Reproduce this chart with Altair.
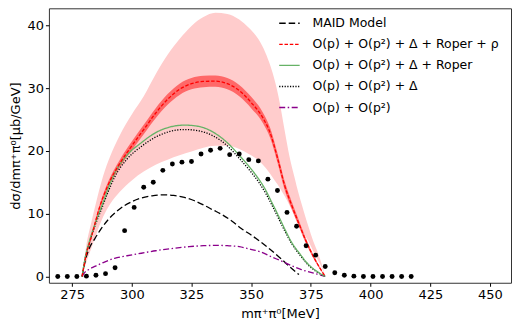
import altair as alt
import pandas as pd

# ---------------- data ----------------
series_names = [
    "MAID Model",
    "O(p) + O(p²) + Δ + Roper + ρ",
    "O(p) + O(p²) + Δ + Roper",
    "O(p) + O(p²) + Δ",
    "O(p) + O(p²)",
]
series_colors = ["#000000", "#ff0000", "#66b266", "#000000", "#8b008b"]
series_dashes = [[6.5, 3], [3.5, 1.8], [1, 0], [1.2, 1.5], [6, 2.5, 1.5, 2.5]]

# experimental points
exp_x = [269, 273, 277, 281, 285, 289, 293, 297, 301, 305, 309, 313, 317, 321, 325,
         329, 333, 337, 341, 345, 349, 353, 357, 361, 365, 369, 373, 377, 381, 385,
         389, 393, 397, 401, 405, 409, 413, 417]
exp_y = [0.0, 0.0, 0.0, 0.05, 0.2, 0.45, 1.4, 7.3, 11.0, 14.2, 15.0, 16.9, 17.9, 18.2, 18.3,
         19.5, 20.1, 20.4, 19.4, 19.5, 18.6, 18.4, 15.5, 13.7, 10.2, 8.0, 4.9, 3.4, 1.6, 0.6,
         0.2, 0.05, 0.0, 0.0, 0.0, 0.0, 0.0, 0.0]

# wide (light) uncertainty band
pink_x = [279.2, 281, 283, 285, 288, 291, 295, 300, 305, 310, 315, 320, 325, 330, 335,
          340, 345, 349, 353, 356, 358, 360, 362, 364, 366, 368, 370, 372, 374, 376, 378, 379.5, 381]
pink_upper = [0, 5.0, 8.5, 11.7, 16.0, 19.2, 22.5, 25.8, 28.7, 32.2, 35.3, 37.8, 39.9, 41.3, 42.0,
              41.8, 40.9, 39.6, 37.8, 35.6, 33.6, 31.0, 27.6, 23.3, 19.2, 16.0, 13.0, 10.4, 7.9,
              5.6, 3.7, 2.0, 0]
pink_lower = [0, 2.3, 4.4, 6.6, 9.5, 11.6, 13.5, 15.3, 16.7, 17.8, 18.6, 19.3, 19.9, 20.5, 20.8,
              20.8, 20.3, 19.5, 18.5, 17.3, 16.3, 15.2, 14.1, 12.8, 11.4, 9.8, 8.4, 6.9, 5.6,
              4.0, 2.6, 1.5, 0]

# full model (red) with its narrow band
red_x = [279.2, 281, 283, 286.5, 290, 295, 300, 305, 310, 315, 320, 325, 330, 335, 340,
         345, 350, 355, 358, 361, 364, 367, 370, 373, 377, 379, 381]
red_y = [0, 3.6, 6.2, 11.0, 14.5, 18.0, 20.8, 23.4, 26.0, 28.2, 29.8, 30.7, 31.05, 31.1, 30.7,
         29.6, 27.7, 25.2, 22.8, 18.9, 14.5, 11.3, 8.4, 5.6, 2.5, 1.2, 0]
red_halfwidth = [0, 0.15, 0.25, 0.4, 0.5, 0.6, 0.7, 0.75, 0.8, 0.85, 0.9, 0.9, 0.9, 0.9, 0.9,
                 0.9, 0.9, 0.85, 0.8, 0.75, 0.7, 0.6, 0.5, 0.4, 0.25, 0.15, 0]

green_x = [279.2, 280.5, 282.4, 285, 287.3, 290, 292.8, 298, 304, 310, 316, 322, 328, 334, 340,
           345, 350, 353, 356, 358.5, 361, 364, 367, 370, 374, 378, 381]
green_y = [0, 3.0, 5.8, 8.8, 11.1, 13.9, 16.4, 19.3, 21.3, 22.9, 23.8, 24.1, 23.9, 23.0, 21.3,
           19.3, 17.1, 15.6, 13.8, 11.9, 10.0, 7.6, 5.4, 3.8, 1.9, 0.7, 0]

dotted_x = green_x
dotted_y = [0, 2.9, 5.6, 8.5, 10.7, 13.4, 15.8, 18.7, 20.7, 22.2, 23.1, 23.4, 23.2, 22.4, 20.8,
            18.8, 16.6, 15.1, 13.3, 11.5, 9.6, 7.3, 5.2, 3.6, 1.8, 0.6, 0]

maid_x = [279.2, 280.5, 282, 284.5, 287, 290, 293.5, 297, 300.5, 304, 308.5, 313, 317.5, 322,
          326, 330, 334, 338, 342, 346, 350, 354, 358, 362, 366, 370]
maid_y = [0, 2.5, 4.3, 6.0, 7.5, 9.0, 10.3, 11.3, 12.0, 12.5, 12.85, 13.0, 12.9, 12.6,
          12.1, 11.4, 10.6, 9.8, 8.8, 7.6, 6.6, 5.5, 4.3, 3.0, 1.6, 0.3]

purple_x = [279.2, 280, 282, 284.5, 288, 292.8, 298, 304, 310, 317.8, 324, 330, 336, 340, 345,
            349, 354, 358.7, 363, 367, 371, 375.4, 378, 381]
purple_y = [0, 0.5, 1.1, 1.6, 2.2, 2.9, 3.3, 3.7, 4.1, 4.5, 4.75, 4.9, 4.95, 4.9, 4.75,
            4.4, 3.9, 3.1, 2.4, 1.7, 1.1, 0.6, 0.35, 0]

x_ticks = [275, 300, 325, 350, 375, 400, 425, 450]
y_ticks = [0, 10, 20, 30, 40]

# ---------------- tables ----------------
rows = []
for name, xs, ys in [
    (series_names[0], maid_x, maid_y),
    (series_names[4], purple_x, purple_y),
    (series_names[3], dotted_x, dotted_y),
    (series_names[2], green_x, green_y),
    (series_names[1], red_x, red_y),
]:
    for i, (a, b) in enumerate(zip(xs, ys)):
        rows.append({"series": name, "x": a, "y": b, "order": i})
lines_df = pd.DataFrame(rows)

pink_df = pd.DataFrame({"x": pink_x, "lo": pink_lower, "hi": pink_upper})
band_df = pd.DataFrame({
    "x": red_x,
    "lo": [c - h for c, h in zip(red_y, red_halfwidth)],
    "hi": [c + h for c, h in zip(red_y, red_halfwidth)],
})
exp_df = pd.DataFrame({"x": exp_x, "y": exp_y})

FONT = "DejaVu Sans"
xscale = alt.Scale(domain=[265.3, 458.8], nice=False, zero=False)
yscale = alt.Scale(domain=[-1.0, 42.7], nice=False, zero=False)

x_axis = alt.Axis(values=x_ticks, title="mπ⁺π⁰[MeV]", grid=False, domain=False,
                  tickColor="black", tickSize=3.5, labelPadding=2, titlePadding=6)
y_axis = alt.Axis(values=y_ticks, title="dσ/dmπ⁺π⁰[μb/GeV]", grid=False, domain=False,
                  tickColor="black", tickSize=3.5, labelPadding=2, titlePadding=4)

legend_cfg = dict(
    title=None, orient="none", legendX=230, legendY=4,
    symbolType="stroke", symbolSize=420, symbolStrokeWidth=1.4,
    labelFont=FONT, labelFontSize=12.5, labelColor="black",
    labelOffset=12, rowPadding=3.1, padding=0, labelLimit=300,
)

pink = alt.Chart(pink_df).mark_area(color="#ffcccc", opacity=1, interpolate="monotone").encode(
    x=alt.X("x:Q", scale=xscale, axis=x_axis),
    y=alt.Y("hi:Q", scale=yscale, axis=y_axis),
    y2="lo:Q",
)

band = alt.Chart(band_df).mark_area(color="#ff6868", opacity=1, interpolate="monotone").encode(
    x=alt.X("x:Q", scale=xscale),
    y=alt.Y("hi:Q", scale=yscale),
    y2="lo:Q",
)

lines = alt.Chart(lines_df).mark_line(strokeWidth=1.3, interpolate="monotone").encode(
    x=alt.X("x:Q", scale=xscale),
    y=alt.Y("y:Q", scale=yscale),
    order="order:Q",
    color=alt.Color("series:N", scale=alt.Scale(domain=series_names, range=series_colors),
                    legend=alt.Legend(**legend_cfg)),
    strokeDash=alt.StrokeDash("series:N",
                              scale=alt.Scale(domain=series_names, range=series_dashes),
                              legend=alt.Legend(**legend_cfg)),
)

dots = alt.Chart(exp_df).mark_circle(color="black", size=24, opacity=1).encode(
    x=alt.X("x:Q", scale=xscale),
    y=alt.Y("y:Q", scale=yscale),
)

chart = alt.layer(pink, band, lines, dots).properties(
    width=463, height=275,
    autosize=alt.AutoSizeParams(type="none"),
    padding={"left": 41, "top": 0, "right": 2, "bottom": 37},
).configure_view(
    stroke="#333333", strokeWidth=1
).configure_axis(
    labelFont=FONT, labelFontSize=13, labelColor="black",
    titleFont=FONT, titleFontSize=13, titleColor="black", titleFontWeight="normal",
)

chart.save("out.html", embed_options={"renderer": "svg", "actions": False})
